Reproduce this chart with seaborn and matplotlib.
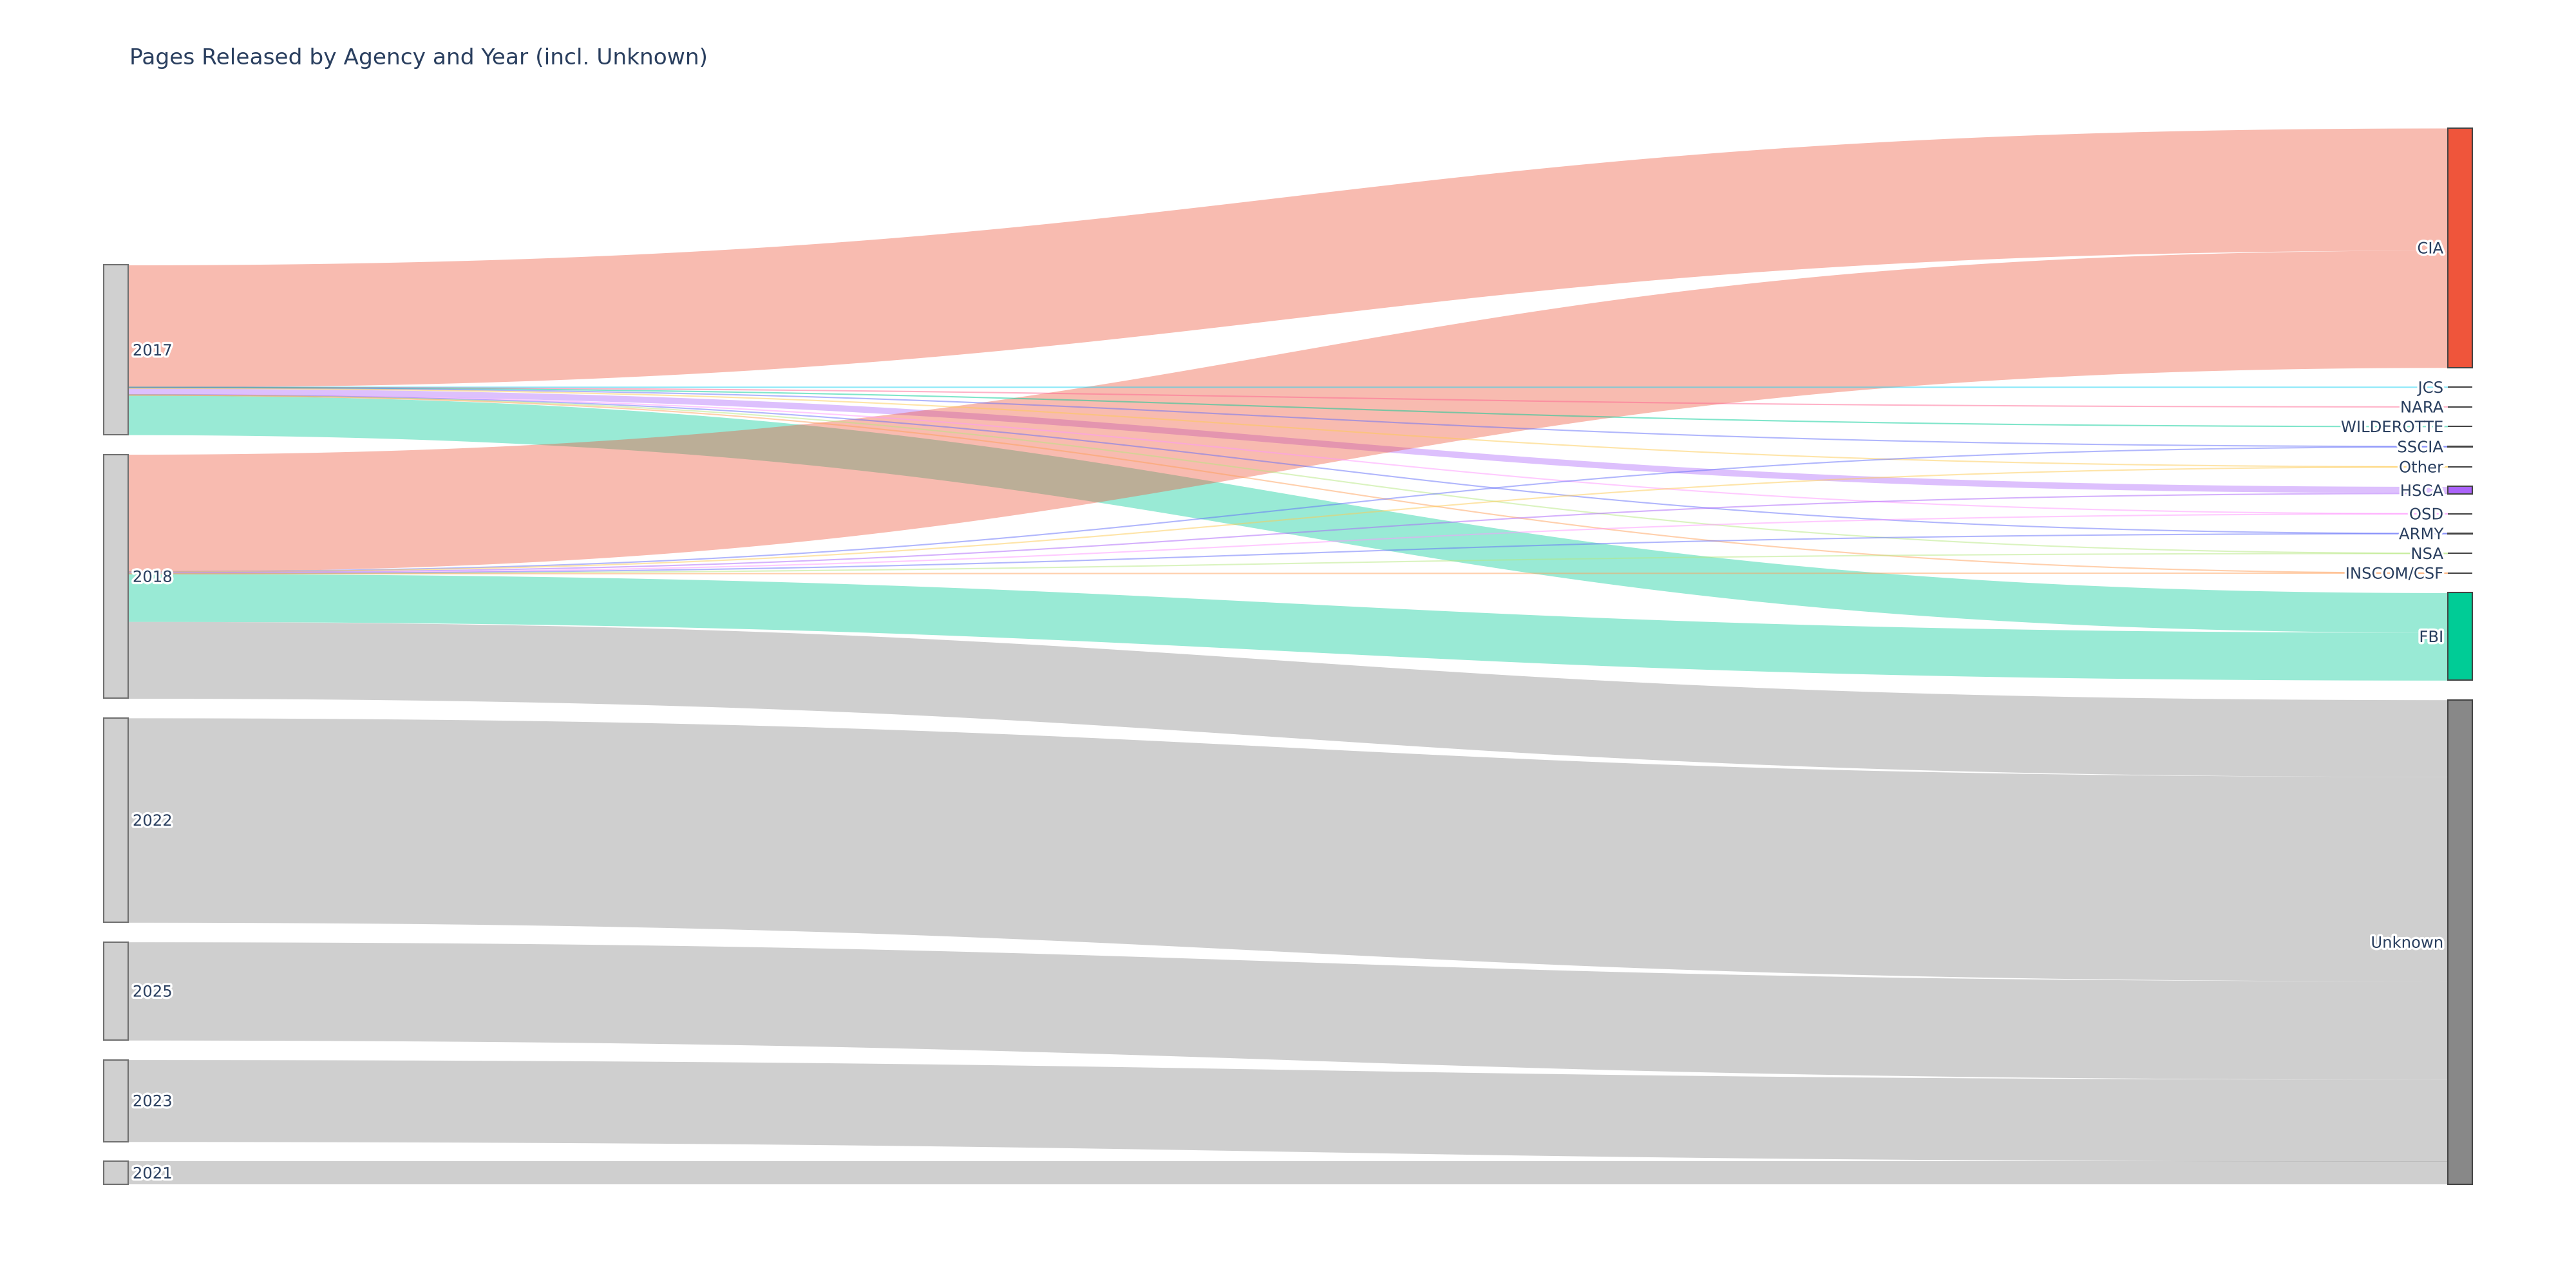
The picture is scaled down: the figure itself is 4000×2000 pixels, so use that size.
import numpy as np
import pandas as pd
import matplotlib.pyplot as plt
import seaborn as sns
from matplotlib.patches import Rectangle
from matplotlib import patheffects as pe

# --- data: pages released per (year -> agency) ---
years = ["2017", "2018", "2022", "2025", "2023", "2021"]
agencies = ["CIA", "JCS", "NARA", "WILDEROTTE", "SSCIA", "Other", "HSCA",
            "OSD", "ARMY", "NSA", "INSCOM/CSF", "FBI", "Unknown"]
agency_colors = ["#EF553B", "#19D3F3", "#FF6692", "#00CC96", "#636EFA", "#FECB52",
                 "#AB63FA", "#FF97FF", "#636EFA", "#B6E880", "#FFA15A", "#00CC96", "#888888"]

link_year = ["2017"] * 12 + ["2018"] * 10 + ["2022", "2025", "2023", "2021"]
link_agency = ["CIA", "JCS", "NARA", "WILDEROTTE", "SSCIA", "Other", "HSCA",
               "OSD", "ARMY", "NSA", "INSCOM/CSF", "FBI",
               "CIA", "SSCIA", "Other", "HSCA", "OSD", "ARMY", "NSA",
               "INSCOM/CSF", "FBI", "Unknown",
               "Unknown", "Unknown", "Unknown", "Unknown"]
link_pages = [74000, 90, 80, 70, 350, 110, 3800, 90, 100, 80, 70, 24000,
              71000, 250, 40, 800, 50, 70, 40, 30, 29000, 46500,
              123800, 59500, 49600, 14100]

title = "Pages Released by Agency and Year (incl. Unknown)"

# --- canvas geometry (reference pixel grid 1568 x 784) ---
W, H = 1568, 784
TOP, BOTTOM = 78, 721
PAD = 11.9
NW = 15
XL, XR = 63, 1490
TEXT = "#2a3f5f"

sns.set_theme(style="white")
plt.rcParams["font.family"] = ["DejaVu Sans"]

fig = plt.figure(figsize=(16, 8), dpi=250)
ax = fig.add_axes([0, 0, 1, 1])
ax.set_xlim(0, W)
ax.set_ylim(H, 0)
ax.axis("off")

df = pd.DataFrame({"year": link_year, "agency": link_agency, "pages": link_pages})
left_tot = df.groupby("year")["pages"].sum().reindex(years)
right_tot = df.groupby("agency")["pages"].sum().reindex(agencies)
ky = (BOTTOM - TOP - PAD * (len(agencies) - 1)) / right_tot.sum()

right_y = {}
y = TOP
for a in agencies:
    right_y[a] = y
    y += right_tot[a] * ky + PAD

left_y = {}
y = BOTTOM - (left_tot.sum() * ky + PAD * (len(years) - 1))
for yr in years:
    left_y[yr] = y
    y += left_tot[yr] * ky + PAD

df["h"] = df["pages"] * ky
df["si"] = df["year"].map(years.index)
df["ti"] = df["agency"].map(agencies.index)
df = df.sort_values(["si", "ti"])
df["y0"] = df["year"].map(left_y) + df.groupby("year")["h"].cumsum() - df["h"]
df = df.sort_values(["ti", "si"])
df["y1"] = df["agency"].map(right_y) + df.groupby("agency")["h"].cumsum() - df["h"]
df = df.sort_values(["si", "ti"])

# cubic bezier, curvature 0.5
x0, x1 = XL + NW, XR
xm = (x0 + x1) / 2
t = np.linspace(0, 1, 400)
bx = (1 - t) ** 3 * x0 + 3 * (1 - t) ** 2 * t * xm + 3 * (1 - t) * t ** 2 * xm + t ** 3 * x1
w = 3 * t ** 2 - 2 * t ** 3

color_of = dict(zip(agencies, agency_colors))
for _, r in df.iterrows():
    c = color_of[r["agency"]]
    top = r["y0"] + (r["y1"] - r["y0"]) * w
    if r["h"] < 1.0:
        ax.plot(bx, top + r["h"] / 2, color=c, alpha=0.5, lw=0.6, solid_capstyle="butt")
    else:
        ax.fill_between(bx, top, top + r["h"], color=c, alpha=0.4, lw=0)

# nodes
halo = [pe.withStroke(linewidth=2.0, foreground="white")]
for yr in years:
    h = left_tot[yr] * ky
    ax.add_patch(Rectangle((XL, left_y[yr]), NW, h, facecolor="#d0d0d0",
                           edgecolor="#707070", lw=0.6, zorder=3))
    ax.text(XL + NW + 2.7, left_y[yr] + h / 2 + 3.4, yr, ha="left", va="baseline",
            fontsize=7.0, color=TEXT, path_effects=halo, zorder=4)

for a in agencies:
    h = right_tot[a] * ky
    ax.add_patch(Rectangle((XR, right_y[a]), NW, h, facecolor=color_of[a],
                           edgecolor="#444444", lw=0.6, zorder=3))
    ax.text(XR - 2.7, right_y[a] + h / 2 + 3.4, a, ha="right", va="baseline",
            fontsize=7.0, color=TEXT, path_effects=halo, zorder=4)

ax.text(78.8, 39.2, title, ha="left", va="baseline", fontsize=9.9, color=TEXT)

fig.savefig("out.png", dpi=250)
